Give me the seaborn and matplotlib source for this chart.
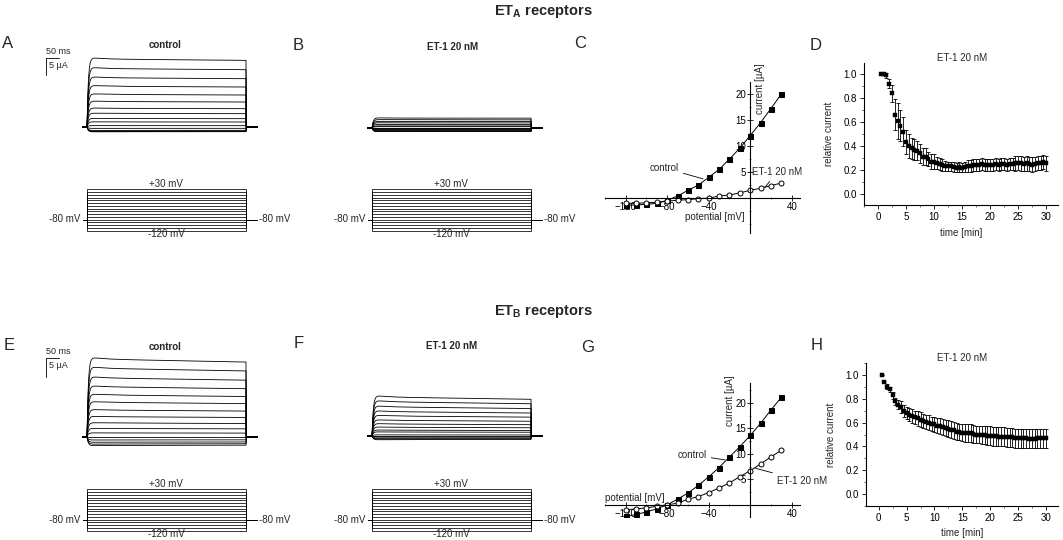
import numpy as np
import pandas as pd
import matplotlib
matplotlib.use("Agg")
import matplotlib.pyplot as plt
import seaborn as sns
from matplotlib.ticker import MultipleLocator

sns.set_theme(style="white")
plt.rcParams["font.family"] = ["Liberation Sans", "DejaVu Sans"]
plt.rcParams["mathtext.fontset"] = "custom"
plt.rcParams["mathtext.rm"] = "Liberation Sans"
plt.rcParams["mathtext.bf"] = "Liberation Sans:bold"

# ---------------- data ----------------
voltages = [-120, -110, -100, -90, -80, -70, -60, -50, -40, -30, -20, -10, 0, 10, 20, 30]

# ETA receptors (panel C)
iv_a_control = [-1.4, -1.3, -1.2, -1.0, -0.4, 0.4, 1.5, 2.5, 4.0, 5.5, 7.5, 9.6, 12.0, 14.5, 17.2, 20.0]
iv_a_et1 = [-1.0, -1.0, -0.9, -0.8, -0.6, -0.4, -0.3, -0.1, 0.0, 0.4, 0.6, 1.0, 1.5, 1.9, 2.4, 2.9]

# ETB receptors (panel G)
iv_b_control = [-2.3, -1.9, -1.4, -0.8, 0.0, 1.1, 2.3, 3.8, 5.5, 7.3, 9.4, 11.4, 13.6, 16.0, 18.6, 21.1]
iv_b_et1 = [-1.0, -0.8, -0.6, -0.3, 0.0, 0.3, 1.1, 1.6, 2.4, 3.3, 4.3, 5.5, 6.7, 8.0, 9.4, 10.7]

time_min = np.arange(0.5, 30.01, 0.5)

rel_a = [1.00, 1.00, 0.99, 0.92, 0.84, 0.66, 0.61, 0.57, 0.52, 0.43,
         0.40, 0.38, 0.37, 0.36, 0.34, 0.31, 0.31, 0.29, 0.27, 0.27,
         0.26, 0.25, 0.24, 0.235, 0.23, 0.23, 0.225, 0.22, 0.225, 0.22,
         0.225, 0.23, 0.235, 0.24, 0.24, 0.245, 0.25, 0.24, 0.245, 0.245,
         0.245, 0.25, 0.245, 0.25, 0.25, 0.245, 0.25, 0.25, 0.255, 0.26,
         0.255, 0.25, 0.255, 0.25, 0.245, 0.25, 0.26, 0.26, 0.265, 0.255]
err_a = [0.01, 0.01, 0.02, 0.04, 0.07, 0.13, 0.15, 0.13, 0.12, 0.10,
         0.10, 0.09, 0.09, 0.08, 0.08, 0.07, 0.07, 0.06, 0.06, 0.06,
         0.05, 0.05, 0.05, 0.04, 0.04, 0.04, 0.04, 0.04, 0.04, 0.04,
         0.04, 0.05, 0.05, 0.05, 0.05, 0.05, 0.05, 0.05, 0.05, 0.05,
         0.05, 0.05, 0.05, 0.05, 0.05, 0.05, 0.05, 0.05, 0.06, 0.06,
         0.06, 0.06, 0.06, 0.06, 0.06, 0.06, 0.06, 0.06, 0.06, 0.06]

rel_b = [1.00, 0.94, 0.90, 0.88, 0.83, 0.78, 0.75, 0.73, 0.70, 0.68,
         0.665, 0.655, 0.645, 0.635, 0.625, 0.615, 0.605, 0.60, 0.59, 0.585,
         0.575, 0.57, 0.565, 0.555, 0.55, 0.54, 0.535, 0.525, 0.52, 0.515,
         0.515, 0.51, 0.51, 0.505, 0.50, 0.50, 0.495, 0.495, 0.49, 0.49,
         0.485, 0.485, 0.48, 0.48, 0.48, 0.475, 0.475, 0.475, 0.47, 0.47,
         0.47, 0.47, 0.47, 0.465, 0.465, 0.465, 0.47, 0.47, 0.47, 0.47]
err_b = [0.0, 0.01, 0.02, 0.02, 0.03, 0.03, 0.04, 0.05, 0.05, 0.05,
         0.055, 0.055, 0.055, 0.06, 0.06, 0.06, 0.06, 0.06, 0.06, 0.06,
         0.065, 0.065, 0.065, 0.065, 0.07, 0.07, 0.07, 0.07, 0.07, 0.07,
         0.075, 0.075, 0.075, 0.075, 0.075, 0.075, 0.075, 0.075, 0.08, 0.08,
         0.08, 0.08, 0.08, 0.08, 0.08, 0.08, 0.08, 0.08, 0.08, 0.08,
         0.08, 0.08, 0.08, 0.08, 0.08, 0.08, 0.08, 0.08, 0.08, 0.08]

HOLD_MV = -80
PULSE_MS = 500.0
T_PRE, T_POST = -14.0, 535.0

# ---------------- layout helpers ----------------
W, H = 1063, 540
fig = plt.figure(figsize=(W / 100, H / 100), dpi=100, facecolor="white")


def px_axes(x0, y0, x1, y1):
    ax = fig.add_axes([x0 / W, 1 - y1 / H, (x1 - x0) / W, (y1 - y0) / H])
    ax.set_facecolor("none")
    return ax


def T(x, y, s, **kw):
    kw.setdefault("ha", "center")
    kw.setdefault("va", "center")
    kw.setdefault("fontsize", 7)
    return fig.text(x / W, 1 - y / H, s, **kw)


PX_PER_MS = 159 / 500.0


def trace_frame(currents, a_fast, b_slow):
    t_on = np.linspace(0, PULSE_MS, 400)
    shape = (1 - np.exp(-t_on / 4.0)) * (1 + a_fast * np.exp(-t_on / 40.0)) * (1 - b_slow * t_on / PULSE_MS)
    frames = []
    for v, cur in zip(voltages, currents):
        t = np.concatenate([[T_PRE, 0.0], t_on[1:], [PULSE_MS + 1.0, T_POST]])
        y = np.concatenate([[0.0, 0.0], cur * shape[1:], [0.0, 0.0]])
        frames.append(pd.DataFrame({"t": t, "I": y, "V": v}))
    return pd.concat(frames, ignore_index=True)


def protocol_frame():
    frames = []
    for v in voltages:
        frames.append(pd.DataFrame({
            "t": [T_PRE, 0.0, 0.0, PULSE_MS, PULSE_MS, T_POST],
            "mV": [HOLD_MV, HOLD_MV, v, v, HOLD_MV, HOLD_MV],
            "V": v}))
    return pd.concat(frames, ignore_index=True)


def draw_traces(p0, base_y, px_per_ua, currents, a_fast, b_slow, scalebar=None):
    y_top, y_bot = base_y - 80, base_y + 13
    ax = px_axes(p0 - 70 * PX_PER_MS, y_top, p0 + 570 * PX_PER_MS, y_bot)
    ax.set_xlim(-70, 570)
    ax.set_ylim(-(y_bot - base_y) / px_per_ua, (base_y - y_top) / px_per_ua)
    df = trace_frame(currents, a_fast, b_slow)
    sns.lineplot(data=df, x="t", y="I", units="V", estimator=None, sort=False,
                 color="black", lw=0.6, ax=ax, legend=False)
    ax.axis("off")
    if scalebar is not None:
        sx, sy = scalebar
        ax.plot([sx, sx + 40], [sy, sy], color="black", lw=0.6, clip_on=False)
        ax.plot([sx, sx], [sy, sy - 5], color="black", lw=0.6, clip_on=False)
    return ax


def draw_protocol(p0, box_top):
    ax = px_axes(p0 - 70 * PX_PER_MS, box_top - 9, p0 + 570 * PX_PER_MS, box_top + 51)
    ax.set_xlim(-70, 570)
    mv_per_px = 150 / 40.0
    ax.set_ylim(30 - 49 * mv_per_px, 30 + 9 * mv_per_px)
    sns.lineplot(data=protocol_frame(), x="t", y="mV", units="V", estimator=None,
                 sort=False, color="black", lw=0.55, ax=ax, legend=False)
    ax.axis("off")
    return ax


def iv_panel(box, ylim, ctrl, et1):
    x0, y0, x1, y1 = box
    ax = px_axes(x0, y0, x1, y1)
    ax.set_xlim(-140, 48)
    ax.set_ylim(*ylim)
    sns.lineplot(x=voltages, y=ctrl, marker="s", color="black", lw=0.7,
                 markersize=3.6, markeredgecolor="black", ax=ax)
    sns.lineplot(x=voltages, y=et1, marker="o", color="black", lw=0.7,
                 markersize=3.6, markerfacecolor="white", markeredgecolor="black",
                 markeredgewidth=0.7, ax=ax)
    for s in ["top", "right"]:
        ax.spines[s].set_visible(False)
    for s in ["left", "bottom"]:
        ax.spines[s].set_position(("data", 0))
        ax.spines[s].set_linewidth(0.8)
        ax.spines[s].set_color("black")
    ax.set_xticks([-120, -80, -40, 40])
    ax.set_yticks([5, 10, 15, 20])
    ax.xaxis.set_minor_locator(MultipleLocator(20))
    ax.yaxis.set_minor_locator(MultipleLocator(2.5))
    ax.tick_params(which="major", direction="inout", length=4, width=0.6,
                   labelsize=7, pad=1, colors="black")
    ax.tick_params(which="minor", direction="inout", length=2, width=0.5)
    ax.tick_params(axis="both", which="both", bottom=True, left=True)
    ax.set_xlabel("")
    ax.set_ylabel("")
    return ax


def time_panel(box, vals, errs, ylim, xlim):
    x0, y0, x1, y1 = box
    ax = px_axes(x0, y0, x1, y1)
    ax.errorbar(time_min, vals, yerr=errs, fmt="none", ecolor="black",
                elinewidth=0.6, capsize=1.6, capthick=0.6)
    sns.scatterplot(x=time_min, y=vals, marker="s", color="black", s=10,
                    edgecolor="black", linewidth=0.3, ax=ax, zorder=3)
    ax.set_xlim(*xlim)
    ax.set_ylim(*ylim)
    for s in ["top", "right"]:
        ax.spines[s].set_visible(False)
    for s in ["left", "bottom"]:
        ax.spines[s].set_linewidth(0.8)
        ax.spines[s].set_color("black")
    ax.set_xticks([0, 5, 10, 15, 20, 25, 30])
    ax.set_yticks([0.0, 0.2, 0.4, 0.6, 0.8, 1.0])
    ax.set_yticklabels(["0.0", "0.2", "0.4", "0.6", "0.8", "1.0"])
    ax.xaxis.set_minor_locator(MultipleLocator(2.5))
    ax.yaxis.set_minor_locator(MultipleLocator(0.1))
    ax.tick_params(which="major", direction="out", length=3, width=0.6,
                   labelsize=7, pad=2, colors="black", bottom=True, left=True)
    ax.tick_params(which="minor", direction="out", length=1.5, width=0.5,
                   bottom=True, left=True)
    ax.set_xlabel("time [min]", fontsize=7)
    ax.set_ylabel("relative current", fontsize=7)
    ax.yaxis.set_label_coords(-0.155, 0.5)
    return ax


# ---------------- titles ----------------
T(543, 11, r"$\mathbf{ET}_{\mathbf{A}}$ receptors", fontsize=10.5, fontweight="bold")
T(543, 311, r"$\mathbf{ET}_{\mathbf{B}}$ receptors", fontsize=10.5, fontweight="bold")

for letter, x, y in [("A", 8, 43), ("B", 298, 45), ("C", 580, 44), ("D", 816, 45),
                     ("E", 9, 345), ("F", 299, 343), ("G", 588, 347), ("H", 817, 346)]:
    T(x, y, letter, fontsize=12)

# ---------------- row 1: ETA ----------------
P1, P2 = 87, 372
# A
draw_traces(P1, 127, 3.4, iv_a_control, 0.03, 0.02, scalebar=(-129, 20.3))
T(165, 45, "control", fontsize=7, fontweight="bold")
T(46, 52, "50 ms", ha="left", fontsize=6.5)
T(49, 65, "5 µA", ha="left", fontsize=6.5)
draw_protocol(P1, 189)
T(166, 184, "+30 mV")
T(166, 234, "-120 mV")
T(80, 219, "-80 mV", ha="right")
T(259, 219, "-80 mV", ha="left")

# B
draw_traces(P2, 128, 3.4, iv_a_et1, 0.05, 0.0)
T(453, 47, "ET-1 20 nM", fontsize=7, fontweight="bold")
draw_protocol(P2, 189)
T(451, 184, "+30 mV")
T(451, 234, "-120 mV")
T(365, 219, "-80 mV", ha="right")
T(544, 219, "-80 mV", ha="left")

# C
axC = iv_panel((605, 82, 800, 233), (-6.7, 22.3), iv_a_control, iv_a_et1)
axC.annotate("control", xy=(-45.5, 3.7), xytext=(-83, 5.8), ha="center", va="center",
             fontsize=7, arrowprops=dict(arrowstyle="-", lw=0.6, color="black",
                                         shrinkA=1, shrinkB=0))
axC.annotate("ET-1 20 nM", xy=(14.3, 2.1), xytext=(26, 5.0), ha="center", va="center",
             fontsize=7, annotation_clip=False,
             arrowprops=dict(arrowstyle="-", lw=0.6, color="black", shrinkA=1, shrinkB=0))
axC.text(9.5, 21.0, "current [µA]", rotation=90, ha="center", va="center", fontsize=7)
axC.text(-34, -3.7, "potential [mV]", ha="center", va="center", fontsize=7)

# D
time_panel((864, 63, 1058, 205), rel_a, err_a, (-0.092, 1.092), (-2.5, 32.1))
T(962, 58, "ET-1 20 nM", fontsize=7)

# ---------------- row 2: ETB ----------------
# E
draw_traces(P1, 437, 3.7, iv_b_control, 0.03, 0.04, scalebar=(-129, 21.35))
T(165, 347, "control", fontsize=7, fontweight="bold")
T(46, 352, "50 ms", ha="left", fontsize=6.5)
T(49, 365, "5 µA", ha="left", fontsize=6.5)
draw_protocol(P1, 489)
T(166, 484, "+30 mV")
T(166, 534, "-120 mV")
T(80, 520, "-80 mV", ha="right")
T(259, 520, "-80 mV", ha="left")

# F
draw_traces(P2, 436, 3.65, iv_b_et1, 0.05, 0.06)
T(452, 346, "ET-1 20 nM", fontsize=7, fontweight="bold")
draw_protocol(P2, 489)
T(451, 484, "+30 mV")
T(451, 534, "-120 mV")
T(365, 520, "-80 mV", ha="right")
T(544, 520, "-80 mV", ha="left")

# G
axG = iv_panel((605, 383, 800, 517), (-2.4, 23.9), iv_b_control, iv_b_et1)
axG.annotate("control", xy=(-24.3, 8.8), xytext=(-56, 9.8), ha="center", va="center",
             fontsize=7, arrowprops=dict(arrowstyle="-", lw=0.6, color="black",
                                         shrinkA=1, shrinkB=0))
axG.annotate("ET-1 20 nM", xy=(4.6, 7.2), xytext=(50, 4.7), ha="center", va="center",
             fontsize=7, annotation_clip=False,
             arrowprops=dict(arrowstyle="-", lw=0.6, color="black", shrinkA=1, shrinkB=0))
axG.text(-19.5, 20.5, "current [µA]", rotation=90, ha="center", va="center", fontsize=7)
axG.text(-111, 1.4, "potential [mV]", ha="center", va="center", fontsize=7)

# H
time_panel((866, 363, 1058, 506), rel_b, err_b, (-0.10, 1.10), (-2.3, 32.2))
T(962, 358, "ET-1 20 nM", fontsize=7)

fig.savefig("out.png", dpi=100, facecolor="white")
